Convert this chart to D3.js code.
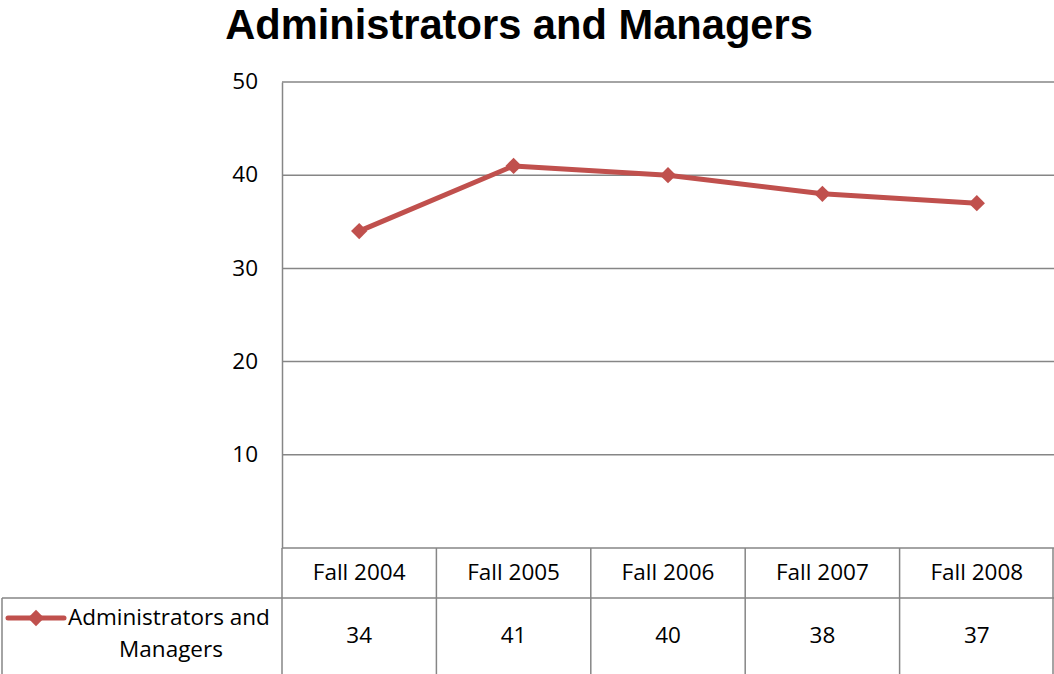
<!DOCTYPE html>
<html><head><meta charset="utf-8">
<script src="https://cdn.jsdelivr.net/npm/d3@7"></script>
<style>body{margin:0;background:#fff}svg{display:block}</style>
</head><body>
<svg id="c" width="1054" height="674"></svg>
<script>
const categories = ["Fall 2004","Fall 2005","Fall 2006","Fall 2007","Fall 2008"];
const values = [34, 41, 40, 38, 37];
const seriesName = "Administrators and Managers";
const yTicks = [10, 20, 30, 40, 50];
const title = "Administrators and Managers";

const W = 1054, H = 674;
const m = {left: 282, right: 1054, top: 82, bottom: 548};
const font = "'Open Sans', 'Liberation Sans', sans-serif";
const titleFont = "'Liberation Sans', Arial, sans-serif";
const red = "#C0504D", grid = "#868686";
const fs = 22.5;
const svg = d3.select("#c");

const x = d3.scaleBand().domain(categories).range([m.left, m.right]);
const y = d3.scaleLinear().domain([0, 50]).range([m.bottom, m.top]);

const tt = svg.append("text").attr("x", 519).attr("y", 39).attr("text-anchor", "middle")
  .attr("font-family", titleFont).attr("font-weight", "bold").attr("font-size", 40)
  .attr("fill", "#000").text(title);
// fit title to reference width
const tw = tt.node().getComputedTextLength();
tt.attr("font-size", 40 * 588 / tw);

// gridlines
svg.append("g").selectAll("line").data(yTicks).join("line")
  .attr("x1", m.left).attr("x2", m.right)
  .attr("y1", d => y(d)).attr("y2", d => y(d))
  .attr("stroke", grid).attr("stroke-width", 1.5);

// y axis
const yAxis = d3.axisLeft(y).tickValues(yTicks).tickSize(0).tickPadding(0);
const ga = svg.append("g").attr("transform", `translate(${m.left},0)`).call(yAxis);
ga.select(".domain").attr("stroke", grid).attr("stroke-width", 1.5);
ga.selectAll("text").attr("font-family", font).attr("font-size", fs).attr("fill", "#000")
  .attr("x", -24).attr("dy", "0.3em");

// table
const rowTop1 = m.bottom, rowTop2 = 598, rowBot = 676;
const tg = svg.append("g").attr("stroke", grid).attr("stroke-width", 1.5).attr("fill", "none");
tg.append("line").attr("x1", m.left).attr("x2", m.right).attr("y1", rowTop1).attr("y2", rowTop1);
tg.append("line").attr("x1", 2).attr("x2", m.right).attr("y1", rowTop2).attr("y2", rowTop2);
tg.append("line").attr("x1", 2).attr("x2", 2).attr("y1", rowTop2).attr("y2", rowBot);
const bounds = categories.map(c => x(c)).concat([m.right - 1]);
tg.selectAll("line.v").data(bounds).join("line").attr("class", "v")
  .attr("x1", d => d).attr("x2", d => d).attr("y1", rowTop1).attr("y2", rowBot);

svg.append("g").selectAll("text").data(categories).join("text")
  .attr("x", d => x(d) + x.bandwidth() / 2).attr("y", 573).attr("dy", "0.3em")
  .attr("text-anchor", "middle").attr("font-family", font).attr("font-size", fs)
  .text(d => d);
svg.append("g").selectAll("text").data(values).join("text")
  .attr("x", (d, i) => x(categories[i]) + x.bandwidth() / 2).attr("y", 636).attr("dy", "0.3em")
  .attr("text-anchor", "middle").attr("font-family", font).attr("font-size", fs)
  .text(d => d);

// legend in table
const diamond = d3.symbol().type(d3.symbolDiamond2).size(170);
svg.append("line").attr("x1", 8).attr("x2", 64).attr("y1", 618).attr("y2", 618)
  .attr("stroke", red).attr("stroke-width", 5).attr("stroke-linecap", "round");
svg.append("path").attr("d", diamond).attr("transform", "translate(36,618)").attr("fill", red);
svg.append("text").attr("x", 68).attr("y", 618).attr("dy", "0.3em")
  .attr("font-family", font).attr("font-size", fs).text("Administrators and");
svg.append("text").attr("x", 171).attr("y", 650).attr("dy", "0.3em").attr("text-anchor", "middle")
  .attr("font-family", font).attr("font-size", fs).text("Managers");

// series
const pts = values.map((v, i) => [x(categories[i]) + x.bandwidth() / 2, y(v)]);
svg.append("path").attr("d", d3.line()(pts)).attr("fill", "none")
  .attr("stroke", red).attr("stroke-width", 5).attr("stroke-linejoin", "round");
svg.append("g").selectAll("path").data(pts).join("path")
  .attr("d", diamond).attr("transform", d => `translate(${d[0]},${d[1]})`).attr("fill", red);
</script>
</body></html>
